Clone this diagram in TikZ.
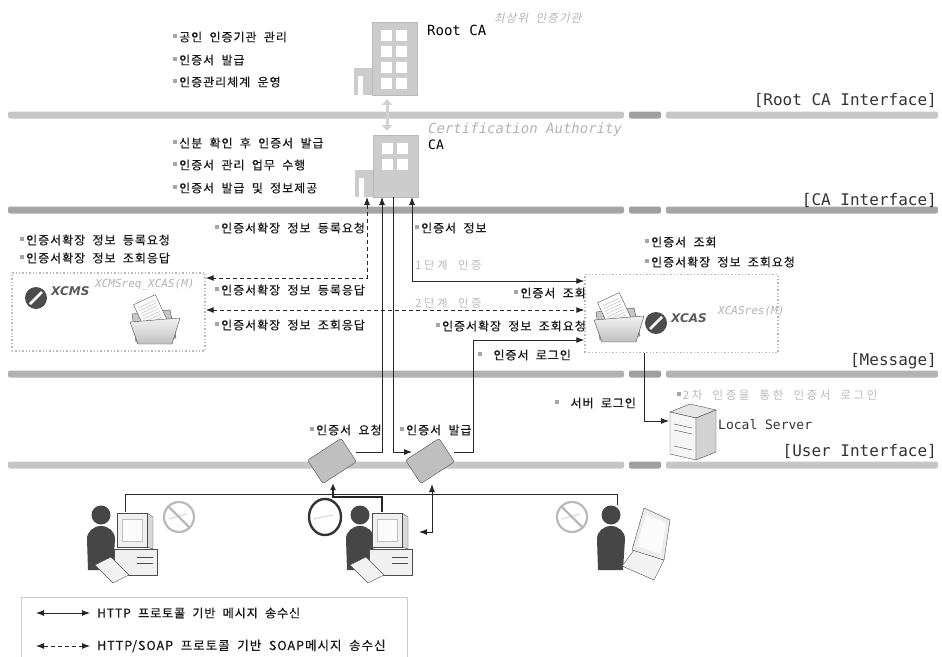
\documentclass[tikz,border=0pt]{standalone}
\usepackage{fontspec}
\setmainfont{Noto Sans CJK KR}
\newfontfamily\mono{DejaVu Sans Mono}
\newfontfamily\latinsans{DejaVu Sans}
\newfontfamily\krtext[LetterSpace=8, WordSpace=2, FakeBold=0.4]{Noto Sans CJK KR}
\newfontfamily\krlight[LetterSpace=22, WordSpace=2]{Noto Sans CJK KR}
\newfontfamily\krslant[FakeSlant=0.2, LetterSpace=10, WordSpace=2]{Noto Sans CJK KR}
\usetikzlibrary{arrows.meta}

% small gray square in front of each item
\newcommand{\bul}{{\color{gray!70}\rule[0.3em]{0.3em}{0.3em}}\hspace{0.2em}}

% office building: tower left x, top y, bottom y, rows of windows
\newcommand{\building}[4]{%
	\fill[gray!40] (#1-18,#3-27) rectangle (#1,#3);
	\fill[white] (#1-14,#3-19) rectangle (#1-9,#3);
	\fill[gray!40] (#1,#2) rectangle (#1+45,#3);
	\draw[gray!55] (#1,#2) rectangle (#1+45,#3);
	\foreach \r in {1,...,#4} {
		\fill[white] (#1+9,#2+8+16*\r-16) rectangle +(11,11);
		\fill[white] (#1+24,#2+8+16*\r-16) rectangle +(11,11);
	}}

% open folder holding a sheet, top left at (#1,#2)
\newcommand{\openfolder}[2]{%
	\begin{scope}[shift={(#1,#2)}]
		\filldraw[fill=gray!45, draw=gray!60!black] (2,16) -- (40,12) -- (46,40) -- (6,44) -- cycle;
		\begin{scope}[rotate around={25:(22,18)}]
			\filldraw[fill=white, draw=gray!60!black] (10,0) rectangle (34,30);
			\foreach \l in {5,8,...,26} \draw[gray!60] (13,\l) -- (31,\l);
		\end{scope}
		\shade[top color=gray!10, bottom color=gray!50, draw=gray!60!black] (0,24) -- (50,20) -- (42,46) -- (8,46) -- cycle;
	\end{scope}}

% user, head centre at (#1,#2)
\newcommand{\person}[2]{%
	\fill[gray!55!black] (#1,#2) circle (9.5);
	\fill[gray!55!black] (#1-13,#2+55) -- (#1-14,#2+24) to[out=90,in=180] (#1,#2+11) to[out=0,in=90] (#1+14,#2+24) -- (#1+12,#2+55) -- cycle;}

% desktop pc, monitor top left at (#1,#2)
\newcommand{\desktop}[2]{%
	\filldraw[fill=gray!12, draw=gray!60!black] (#1-3,#2+36) rectangle (#1+40,#2+62);
	\draw[gray!60!black] (#1+20,#2+44) -- (#1+36,#2+44) (#1+20,#2+50) -- (#1+36,#2+50);
	\filldraw[fill=gray!30, draw=gray!60!black] (#1+30,#2) -- (#1+36,#2+4) -- (#1+36,#2+36) -- (#1+30,#2+34) -- cycle;
	\filldraw[fill=gray!12, draw=gray!60!black] (#1,#2) rectangle (#1+30,#2+34);
	\filldraw[fill=gray!3, draw=gray!50] (#1+5,#2+6) rectangle (#1+25,#2+28);
	\filldraw[fill=gray!10, draw=gray!60!black] (#1-22,#2+52) -- (#1-6,#2+44) -- (#1+12,#2+62) -- (#1-4,#2+70) -- cycle;}

% laptop, screen top at (#1,#2)
\newcommand{\laptop}[2]{%
	\filldraw[fill=gray!10, draw=gray!60!black] (#1-10,#2+58) -- (#1+2,#2+42) -- (#1+32,#2+52) -- (#1+22,#2+72) -- cycle;
	\filldraw[fill=gray!15, draw=gray!60!black] (#1,#2+42) -- (#1+12,#2) -- (#1+38,#2+12) -- (#1+32,#2+52) -- cycle;
	\fill[gray!3] (#1+5,#2+38) -- (#1+14,#2+6) -- (#1+34,#2+15) -- (#1+29,#2+46) -- cycle;}

% forbidden sign
\newcommand{\nosign}[2]{%
	\draw[gray!25, line width=1.5pt] (#1-10,#2+2) -- (#1+8,#2-3);
	\draw[gray!55, line width=2.2pt] (#1,#2) circle (15);
	\draw[gray!55, line width=2.2pt] (#1-10.6,#2-10.6) -- (#1+10.6,#2+10.6);}

\begin{document}
\begin{tikzpicture}[x=1pt, y=-1pt, >={Latex[length=8pt,width=6pt]}]
	\tikzstyle{kr} = [inner sep=0, anchor=west, text=black!90, font={\krtext\fontsize{12}{14}\selectfont}];
	\tikzstyle{hint} = [inner sep=0, anchor=west, text=gray!55, font={\krlight\fontsize{11.5}{13}\selectfont}];
	\tikzstyle{ifc} = [inner sep=0, anchor=east, text=black!80, font={\mono\fontsize{16}{18}\selectfont}];
	\tikzstyle{tag} = [inner sep=0, anchor=west, text=gray!60, font={\mono\itshape\fontsize{11}{13}\selectfont}];
	\tikzstyle{sysname} = [inner sep=0, anchor=west, text=gray!70!black, font={\latinsans\bfseries\itshape\fontsize{12}{14}\selectfont}];
	\tikzstyle{msgbox} = [draw=gray!55, dotted, line width=1.4pt, minimum width=193, minimum height=78, inner sep=0];
	\tikzstyle{http} = [draw=black!85, line width=0.9pt];
	\tikzstyle{soap} = [http, dash pattern=on 4pt off 3pt, <->];
	\tikzstyle{tiltdoc} = [draw=gray!60!black, fill=gray!50, minimum width=40, minimum height=28, rounded corners=2pt, inner sep=0];

	\useasboundingbox (0,0) rectangle (942,656);

	% interface bars
	\foreach \y/\c in {115/gray!45, 210/gray!70, 374/gray!60, 465/gray!45} {
		\fill[fill=\c, rounded corners=2pt] (8,\y-3.5) rectangle (624,\y+3.5);
		\fill[fill=gray!75, rounded corners=2pt] (629,\y-3.5) rectangle (661,\y+3.5);
		\fill[fill=\c, rounded corners=2pt] (666,\y-3.5) rectangle (938,\y+3.5);
	}
	\node[ifc] (ifRoot) at (937,100) {[Root CA Interface]};
	\node[ifc] (ifCA) at (937,200) {[CA Interface]};
	\node[ifc] (ifMsg) at (937,361) {[Message]};
	\node[ifc] (ifUser) at (937,451) {[User Interface]};

	% root CA and CA
	\node[inner sep=0, minimum width=64, minimum height=73] (rootca) at (385,58.5) {};
	\building{372}{22}{95}{4}
	\node[inner sep=0, minimum width=62, minimum height=62] (ca) at (385,166) {};
	\building{373}{135}{197}{2}

	\node[inner sep=0, anchor=west, font={\mono\fontsize{14}{16}\selectfont}] (rootName) at (427,30) {Root CA};
	\node[inner sep=0, anchor=west, text=gray!60, font={\krslant\fontsize{11.5}{13}\selectfont}] (rootTag) at (494,18) {최상위 인증기관};
	\node[inner sep=0, anchor=west, text=gray!60, font={\mono\itshape\fontsize{14}{16}\selectfont}] (caTag) at (428,130) {Certification Authority};
	\node[inner sep=0, anchor=west, font={\mono\fontsize{13}{15}\selectfont}] (caName) at (428,145) {CA};

	\node[kr] (r1) at (173,37) {\bul 공인 인증기관 관리};
	\node[kr] (r2) at (173,60) {\bul 인증서 발급};
	\node[kr] (r3) at (173,82) {\bul 인증관리체계 운영};
	\node[kr] (c1) at (173,143) {\bul 신분 확인 후 인증서 발급};
	\node[kr] (c2) at (173,165) {\bul 인증서 관리 업무 수행};
	\node[kr] (c3) at (173,188) {\bul 인증서 발급 및 정보제공};

	\coordinate (rootLink) at (387,99);
	\coordinate (caLink) at (387,131);
	\draw[gray!35, line width=3pt, {Triangle[length=6pt,width=10pt]}-{Triangle[length=6pt,width=10pt]}] (rootLink) -- (caLink);

	% message servers
	\node[msgbox] (xcms) at (108.5,312) {};
	\fill[gray!60!black] (36,298) circle (11);
	\draw[white, line width=2.5pt] (30,304) -- (42,292);
	\node[sysname] (xcmsName) at (51,291) {XCMS};
	\node[tag] (xcmsTag) at (95,285) {XCMSreq\_XCAS(M)};
	\openfolder{130}{298}

	\node[msgbox] (xcas) at (681.5,313.5) {};
	\openfolder{594}{296}
	\fill[gray!60!black] (656,323) circle (11);
	\draw[white, line width=2.5pt] (650,329) -- (662,317);
	\node[sysname] (xcasName) at (671,318) {XCAS};
	\node[tag] (xcasTag) at (718,311) {XCASres(M)};

	\node[kr] (m1) at (20,240) {\bul 인증서확장 정보 등록요청};
	\node[kr] (m2) at (20,258) {\bul 인증서확장 정보 조회응답};
	\node[kr] (s1) at (645,242) {\bul 인증서 조회};
	\node[kr] (s2) at (645,262) {\bul 인증서확장 정보 조회요청};

	% CA <-> message servers
	\coordinate (caA) at (367,197);
	\coordinate (caB) at (382,197);
	\coordinate (caC) at (393,197);
	\coordinate (caD) at (412,197);
	\coordinate (regBend) at (367,278);
	\coordinate (infoBend) at (412,281);
	\coordinate (step2) at (0,310);

	\draw[soap] (caA) -- (regBend) -- (regBend -| xcms.east);
	\draw[soap] (step2 -| xcms.east) -- (step2 -| xcas.west);
	\draw[http, <->] (caD) -- (infoBend) -- (infoBend -| xcas.west);

	\node[kr] (l1) at (215,228) {\bul 인증서확장 정보 등록요청};
	\node[kr] (l2) at (215,290) {\bul 인증서확장 정보 등록응답};
	\node[kr] (l3) at (215,325) {\bul 인증서확장 정보 조회응답};
	\node[kr] (l4) at (415,228) {\bul 인증서 정보};
	\node[hint] (l5) at (415,265) {1단계 인증};
	\node[kr, anchor=east] (l6) at (586,293) {\bul 인증서 조회};
	\node[hint] (l7) at (415,303) {2단계 인증};
	\node[kr, anchor=east] (l8) at (586,326) {\bul 인증서확장 정보 조회요청};
	\node[kr] (l9) at (478,355) {\bul\, 인증서 로그인};

	% certificate request / issue
	\node[tiltdoc, rotate=33] (reqDoc) at (332,461) {};
	\node[tiltdoc, rotate=33] (issDoc) at (430,461) {};
	\node[kr] (d1) at (310,430) {\bul 인증서 요청};
	\node[kr] (d2) at (400,430) {\bul 인증서 발급};

	\coordinate (reqOut) at (356,452);
	\coordinate (issIn) at (412,452);
	\coordinate (issOut) at (454,452);
	\coordinate (loginBend) at (473,340);

	\draw[http, ->] (reqOut) -| (caB);
	\draw[http, ->] (caC) |- (issIn);
	\draw[http, ->] (issOut) -| (loginBend) -- (loginBend -| xcas.west);

	% local server
	\coordinate (xcasOut) at (644,352.5);
	\coordinate (srvIn) at (669,421);
	\draw[http, ->] (xcasOut) |- (srvIn);
	\node[inner sep=0, minimum width=48, minimum height=56] (srv) at (693,432) {};
	\filldraw[fill=gray!20, draw=gray!60!black] (670,412) -- (690,404) -- (716,410) -- (696,418) -- cycle;
	\filldraw[fill=gray!8, draw=gray!60!black] (670,412) -- (696,418) -- (696,460) -- (670,454) -- cycle;
	\filldraw[fill=gray!35, draw=gray!60!black] (696,418) -- (716,410) -- (716,452) -- (696,460) -- cycle;
	\foreach \d in {424,430,446} \draw[gray!60!black] (674,\d) -- (692,\d+4);
	\node[inner sep=0, anchor=west, text=black!80, font={\mono\fontsize{13}{15}\selectfont}] (srvName) at (718,425) {Local Server};
	\node[kr] (v1) at (555,403) {\bul\, 서버 로그인};
	\node[hint] (v2) at (677,395) {\bul 2차 인증을 통한 인증서 로그인};

	% users
	\person{101}{515}
	\desktop{117}{513}
	\nosign{179}{517}
	\person{360}{515}
	\desktop{372}{513}
	\draw[gray!25, line width=1.5pt] (313,519) -- (333,515);
	\draw[gray!40!black, line width=2.4pt] (325,517) ellipse (16 and 18);
	\nosign{572}{517}
	\person{611}{515}
	\laptop{632}{508}

	\coordinate (pcLeft) at (125,512);
	\coordinate (busL) at (125,494);
	\coordinate (busR) at (617,494);
	\coordinate (pcRight) at (617,505);
	\coordinate (pcMid) at (382,512);
	\coordinate (reqBend) at (333,497);
	\coordinate (reqIn) at (333,483);
	\coordinate (issDown) at (432,484);
	\coordinate (pcMidIn) at (419,532);

	\draw[http, line width=0.6pt] (pcLeft) -- (busL) -- (busR) -- (pcRight);
	\draw[http, line width=2.4pt, -{Latex[length=7pt,width=6pt]}] (pcMid) |- (reqBend) -- (reqIn);
	\draw[http, <->] (issDown) |- (pcMidIn);

	% legend
	\node[draw=gray!40, minimum width=386, minimum height=73, inner sep=0, anchor=north west] (legend) at (21,597) {};
	\coordinate (lgA) at (36,613);
	\coordinate (lgB) at (90,613);
	\coordinate (lgC) at (36,646);
	\coordinate (lgD) at (90,646);
	\draw[http, <->] (lgA) -- (lgB);
	\draw[soap] (lgC) -- (lgD);
	\node[kr, font={\krtext\fontsize{12}{14}\selectfont}] (lg1) at (97,613) {HTTP 프로토콜 기반 메시지 송수신};
	\node[kr, font={\krtext\fontsize{12.5}{14}\selectfont}] (lg2) at (97,646) {HTTP/SOAP 프로토콜 기반 SOAP메시지 송수신};
\end{tikzpicture}
\end{document}
